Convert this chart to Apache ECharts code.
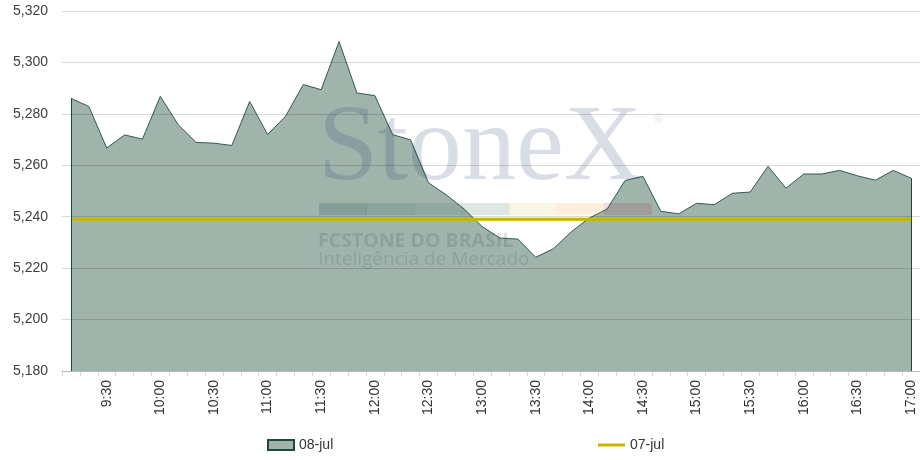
<!DOCTYPE html>
<html>
<head>
<meta charset="utf-8">
<script src="https://cdn.jsdelivr.net/npm/echarts@6/dist/echarts.min.js"></script>
<style>html,body{margin:0;padding:0;background:#fff}#c{width:920px;height:460px}</style>
</head>
<body>
<div id="c"></div>
<script>
var times = ['9:10','9:20','9:30','9:40','9:50','10:00','10:10','10:20','10:30','10:40','10:50','11:00',
  '11:10','11:20','11:30','11:40','11:50','12:00','12:10','12:20','12:30','12:40','12:50','13:00',
  '13:10','13:20','13:30','13:40','13:50','14:00','14:10','14:20','14:30','14:40','14:50','15:00',
  '15:10','15:20','15:30','15:40','15:50','16:00','16:10','16:20','16:30','16:40','16:50','17:00'];
var jul08 = [5286.0,5282.9,5266.7,5271.8,5270.2,5286.8,5275.8,5268.9,5268.6,5267.7,5284.8,5272.0,
  5279.0,5291.4,5289.4,5308.1,5288.1,5287.1,5271.9,5269.9,5253.2,5248.5,5243.0,5236.2,
  5231.7,5231.3,5224.2,5227.6,5234.2,5239.5,5243.0,5254.1,5255.7,5242.1,5241.1,5245.2,
  5244.7,5249.1,5249.6,5259.6,5251.1,5256.6,5256.6,5258.0,5255.9,5254.2,5258.0,5255.0];
var jul07Value = 5239;
var jul07 = times.map(function(){ return jul07Value; });
var yMin = 5180, yMax = 5320, yStep = 20;

var chart = echarts.init(document.getElementById('c'));
var FONT = 'Liberation Sans';
var last = times.length - 1;
chart.setOption({
  animation: false,
  backgroundColor: '#ffffff',
  grid: { left: 62, right: 0, top: 11, bottom: 89 },
  xAxis: {
    type: 'category', data: times, boundaryGap: true,
    axisLine: { show: true, lineStyle: { color: '#d9d9d9', width: 1 } },
    axisTick: { show: true, interval: 0, length: 5, lineStyle: { color: '#d9d9d9' } },
    axisLabel: {
      interval: function(i){ return (i - 2) % 3 === 0; },
      rotate: 90, margin: 9, color: '#333', fontFamily: FONT, fontSize: 14
    },
    splitLine: { show: false }
  },
  yAxis: {
    type: 'value', min: yMin, max: yMax, interval: yStep, z: 3,
    axisLine: { show: false }, axisTick: { show: false },
    axisLabel: {
      margin: 14, color: '#404040', fontFamily: FONT, fontSize: 14,
      formatter: function(v){ return String(v).replace(/(\d)(?=(\d{3})+$)/, '$1,'); }
    },
    splitLine: { show: true, lineStyle: { color: 'rgba(0,0,0,0.15)', width: 1 } }
  },
  legend: [
    { data: [{ name: '08-jul', icon: 'rect' }], left: 262, top: 433, itemWidth: 26, itemHeight: 10,
      textStyle: { fontFamily: FONT, fontSize: 14, color: '#333' } },
    { data: [{ name: '07-jul', icon: 'rect' }], left: 593, top: 433, itemWidth: 27, itemHeight: 3,
      textStyle: { fontFamily: FONT, fontSize: 14, color: '#333' } }
  ],
  graphic: [
    { type: 'text', left: 318, top: 97, z: 100, silent: true,
      style: { text: 'StoneX', font: '108px "Liberation Serif"', fill: 'rgba(0,35,85,0.15)' } },
    { type: 'text', left: 654, top: 114, z: 100, silent: true,
      style: { text: '®', font: '12px "Liberation Sans"', fill: 'rgba(0,35,85,0.15)' } },
    { type: 'rect', shape: { x: 319, y: 203, width: 48, height: 12 }, z: 100, silent: true, style: { fill: 'rgba(0,60,60,0.18)' } },
    { type: 'rect', shape: { x: 366.5, y: 203, width: 48, height: 12 }, z: 100, silent: true, style: { fill: 'rgba(10,80,80,0.15)' } },
    { type: 'rect', shape: { x: 414, y: 203, width: 48, height: 12 }, z: 100, silent: true, style: { fill: 'rgba(30,100,100,0.12)' } },
    { type: 'rect', shape: { x: 461.5, y: 203, width: 48, height: 12 }, z: 100, silent: true, style: { fill: 'rgba(28,100,62,0.15)' } },
    { type: 'rect', shape: { x: 509, y: 203, width: 48, height: 12 }, z: 100, silent: true, style: { fill: 'rgba(221,195,75,0.15)' } },
    { type: 'rect', shape: { x: 556.5, y: 203, width: 48, height: 12 }, z: 100, silent: true, style: { fill: 'rgba(242,148,22,0.15)' } },
    { type: 'rect', shape: { x: 604, y: 203, width: 48, height: 12 }, z: 100, silent: true, style: { fill: 'rgba(150,30,60,0.15)' } },
    { type: 'text', left: 318, top: 231, z: 100, silent: true,
      style: { text: 'FCSTONE DO BRASIL', font: 'bold 19.5px "Open Sans"', fill: 'rgba(0,35,60,0.13)' } },
    { type: 'text', left: 318, top: 250, z: 100, silent: true,
      style: { text: 'Inteligência de Mercado', font: '19px "Open Sans"', fill: 'rgba(0,35,60,0.13)' } }
  ],
  series: [
    {
      name: '08-jul', type: 'line', data: jul08, showSymbol: false, symbol: 'none', z: 2,
      lineStyle: { color: '#2f5a4a', width: 1 },
      itemStyle: { color: '#a0b4ac', borderColor: '#1f4a3a', borderWidth: 1 },
      areaStyle: { color: '#a0b4ac', opacity: 1, origin: 'start' },
      markLine: {
        silent: true, symbol: 'none', label: { show: false },
        lineStyle: { color: '#1f4a3a', width: 1, type: 'solid' },
        data: [
          [{ coord: [times[0], yMin] }, { coord: [times[0], jul08[0]] }],
          [{ coord: [times[last], yMin] }, { coord: [times[last], jul08[last]] }]
        ]
      }
    },
    {
      name: '07-jul', type: 'line', data: jul07, showSymbol: false, symbol: 'none', z: 4,
      lineStyle: { color: '#c8b400', width: 3 },
      itemStyle: { color: '#c8b400' }
    }
  ]
});
</script>
</body>
</html>
